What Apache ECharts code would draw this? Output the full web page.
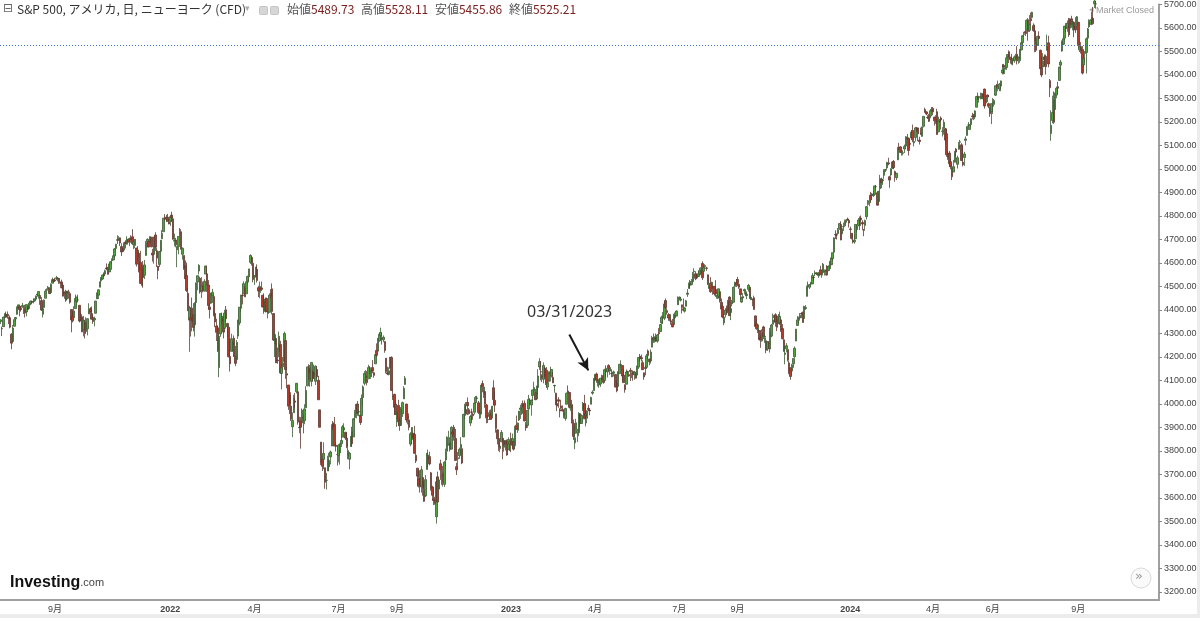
<!DOCTYPE html>
<html>
<head>
<meta charset="utf-8">
<title>S&amp;P 500 日足</title>
<script src="https://cdn.jsdelivr.net/npm/echarts@6.0.0/dist/echarts.min.js"></script>
<style>
  html, body { margin: 0; padding: 0; background: #fff; }
  #chart { width: 1200px; height: 618px; }
</style>
</head>
<body>
<div id="chart"></div>
<script>
// S&P 500 CFD daily candles: [open, close, low, high]
var candles2021 = [
  [4351,4358,4340,4361],[4321,4320,4289,4330],[4329,4370,4329,4372],[4372,4385,4366,4386],[4382,4369,4367,4393],
  [4381,4374,4363,4394],[4369,4361,4340,4369],[4367,4327,4322,4376],[4297,4259,4233,4301],[4266,4323,4264,4336],
  [4331,4359,4330,4359],[4362,4368,4351,4370],[4382,4412,4380,4415],[4410,4422,4405,4422],[4416,4402,4373,4416],
  [4407,4401,4393,4416],[4412,4419,4411,4430],[4396,4395,4383,4412],
  // Aug
  [4406,4387,4368,4422],[4392,4423,4373,4423],[4415,4402,4400,4417],[4406,4429,4405,4430],[4429,4437,4420,4440],
  [4437,4432,4424,4440],[4436,4436,4428,4449],[4442,4447,4437,4449],[4446,4460,4437,4461],[4464,4468,4457,4468],
  [4461,4479,4448,4480],[4462,4448,4422,4462],[4440,4400,4396,4455],[4382,4406,4368,4418],[4411,4442,4410,4445],
  [4450,4480,4450,4489],[4484,4486,4480,4492],[4490,4497,4487,4502],[4493,4470,4468,4496],[4474,4509,4468,4513],
  [4514,4529,4514,4538],[4529,4523,4515,4532],
  // Sep
  [4528,4524,4519,4537],[4534,4537,4527,4545],[4533,4535,4522,4540],[4535,4520,4511,4536],[4518,4514,4493,4521],
  [4514,4493,4493,4529],[4506,4459,4458,4521],[4474,4469,4448,4480],[4479,4443,4435,4486],[4447,4481,4440,4481],
  [4477,4474,4448,4486],[4470,4433,4427,4472],[4402,4358,4305,4403],[4374,4354,4347,4394],[4367,4396,4367,4416],
  [4406,4449,4406,4466],[4438,4455,4430,4456],[4443,4443,4432,4465],[4420,4353,4347,4420],[4367,4360,4352,4389],
  [4371,4307,4306,4382],
  // Oct
  [4317,4357,4288,4375],[4348,4300,4279,4356],[4309,4346,4309,4369],[4320,4363,4292,4365],[4383,4399,4383,4429],
  [4406,4391,4387,4412],[4385,4361,4360,4415],[4368,4351,4341,4374],[4358,4364,4330,4372],[4386,4438,4386,4439],
  [4447,4471,4447,4475],[4463,4486,4447,4488],[4497,4520,4497,4520],[4524,4537,4519,4540],[4532,4549,4528,4551],
  [4553,4545,4540,4560],[4553,4567,4552,4572],[4579,4575,4569,4598],[4580,4552,4551,4584],[4562,4596,4562,4597],
  [4573,4605,4573,4608],
  // Nov
  [4610,4614,4595,4620],[4613,4631,4612,4635],[4630,4660,4623,4664],[4662,4680,4650,4681],[4699,4697,4681,4718],
  [4702,4702,4694,4714],[4707,4685,4672,4708],[4670,4647,4630,4684],[4659,4650,4648,4664],[4655,4683,4648,4688],
  [4689,4683,4662,4697],[4680,4701,4679,4714],[4701,4689,4688,4701],[4700,4704,4672,4708],[4708,4698,4686,4718],
  [4712,4682,4679,4744],[4678,4690,4659,4699],[4675,4701,4663,4702],[4664,4595,4585,4664],[4628,4655,4608,4672],
  [4641,4567,4560,4646],
  // Dec
  [4602,4513,4511,4652],[4504,4577,4504,4595],[4589,4538,4495,4608],[4548,4592,4532,4613],[4632,4687,4632,4694],
  [4690,4701,4667,4705],[4691,4668,4667,4695],[4688,4712,4688,4713],[4710,4669,4667,4710],[4642,4634,4606,4660],
  [4637,4710,4597,4712],[4719,4668,4651,4731],[4652,4621,4583,4666],[4587,4568,4531,4588],[4594,4649,4583,4651],
  [4650,4697,4645,4698],[4703,4726,4703,4740],[4733,4791,4733,4791],[4795,4786,4781,4808],[4788,4793,4775,4805],
  [4795,4778,4776,4809],[4776,4766,4765,4787]
];

var candles2022 = [
  [4778,4797,4758,4797],[4804,4794,4775,4818],[4788,4701,4700,4798],[4693,4696,4671,4725],[4698,4677,4667,4707],
  [4656,4670,4582,4671],[4670,4713,4637,4714],[4728,4726,4713,4749],[4733,4659,4658,4744],[4637,4663,4614,4666],
  [4632,4577,4571,4632],[4588,4533,4531,4611],[4547,4483,4477,4602],[4471,4398,4395,4495],[4357,4410,4222,4418],
  [4367,4357,4287,4411],[4408,4350,4309,4453],[4380,4326,4309,4429],[4337,4432,4287,4432],[4432,4516,4415,4516],
  // Feb
  [4519,4546,4484,4546],[4566,4590,4551,4595],[4535,4477,4470,4542],[4482,4501,4451,4540],[4505,4484,4475,4521],
  [4480,4522,4480,4531],[4553,4587,4553,4588],[4554,4504,4477,4589],[4506,4419,4402,4527],[4413,4402,4364,4427],
  [4429,4472,4426,4473],[4460,4475,4430,4490],[4457,4380,4373,4464],[4385,4349,4327,4395],[4332,4305,4268,4363],
  [4324,4226,4222,4334],[4155,4288,4114,4295],[4298,4385,4286,4385],[4354,4374,4337,4389],
  // Mar
  [4363,4306,4279,4375],[4322,4387,4321,4401],[4401,4363,4350,4417],[4343,4329,4284,4343],[4327,4201,4199,4328],
  [4202,4171,4138,4277],[4224,4278,4224,4299],[4252,4260,4223,4268],[4280,4204,4200,4292],[4203,4173,4161,4247],
  [4189,4262,4189,4272],[4289,4358,4277,4358],[4345,4412,4335,4412],[4407,4463,4390,4465],[4463,4461,4424,4471],
  [4469,4512,4469,4522],[4493,4456,4455,4501],[4469,4520,4469,4521],[4523,4543,4508,4546],[4541,4575,4517,4575],
  [4603,4632,4596,4637],[4624,4602,4589,4627],[4599,4530,4518,4603],
  // Apr
  [4540,4546,4507,4549],[4547,4583,4539,4583],[4573,4526,4517,4594],[4495,4481,4455,4503],[4475,4500,4450,4521],
  [4494,4488,4481,4521],[4463,4413,4411,4463],[4437,4397,4384,4471],[4394,4447,4389,4453],[4449,4393,4392,4453],
  [4385,4392,4364,4411],[4390,4463,4390,4471],[4473,4459,4446,4489],[4490,4394,4381,4513],[4385,4272,4268,4386],
  [4255,4296,4200,4300],[4279,4175,4175,4279],[4187,4184,4171,4240],[4222,4288,4199,4308],[4253,4132,4130,4269],
  // May
  [4130,4155,4062,4169],[4159,4175,4142,4200],[4181,4300,4175,4308],[4270,4147,4107,4270],[4129,4123,4067,4158],
  [4081,3991,3975,4081],[4035,4001,3957,4068],[3991,3935,3928,4050],[3903,3930,3859,3964],[3963,4024,3963,4039],
  [4013,4008,3983,4047],[4052,4088,4045,4090],[4052,3923,3912,4052],[3899,3901,3876,3946],[3928,3901,3810,3944],
  [3919,3974,3908,3981],[3942,3941,3875,3955],[3929,3979,3914,3999],[3984,4058,3984,4076],[4077,4158,4077,4158],
  [4151,4132,4103,4169],
  // Jun
  [4149,4101,4074,4166],[4096,4177,4075,4177],[4137,4109,4097,4143],[4134,4121,4107,4168],[4097,4161,4081,4164],
  [4147,4116,4110,4160],[4101,4018,4018,4120],[3975,3901,3901,3975],[3838,3750,3740,3838],[3764,3735,3715,3779],
  [3764,3790,3722,3837],[3729,3667,3639,3729],[3675,3675,3636,3707],[3715,3765,3715,3780],[3733,3760,3717,3792],
  [3775,3796,3743,3802],[3821,3912,3821,3913],[3920,3900,3889,3928],[3913,3821,3820,3945],[3825,3819,3798,3837],
  [3785,3785,3738,3818],
  // Jul
  [3781,3825,3752,3829],[3792,3831,3742,3832],[3831,3845,3817,3871],[3859,3903,3859,3911],[3889,3899,3876,3918],
  [3880,3855,3847,3880],[3855,3819,3812,3880],[3779,3802,3765,3830],[3765,3790,3722,3796],[3819,3863,3818,3863],
  [3883,3831,3818,3903],[3860,3937,3860,3940],[3942,3960,3930,3975],[3960,3999,3939,3999],[4000,3962,3950,4013],
  [3966,3967,3948,3976],[3953,3921,3911,3953],[3951,4024,3951,4040],[4027,4073,3993,4079],[4088,4130,4079,4140],
  // Aug
  [4113,4119,4094,4144],[4105,4091,4079,4141],[4107,4155,4107,4167],[4154,4152,4129,4161],[4116,4145,4107,4151],
  [4155,4140,4131,4187],[4133,4122,4112,4137],[4171,4210,4171,4211],[4228,4207,4201,4258],[4225,4280,4222,4280],
  [4269,4297,4265,4301],[4291,4305,4273,4325],[4281,4275,4253,4303],[4273,4284,4263,4292],[4266,4228,4218,4266],
  [4195,4138,4130,4195],[4133,4128,4123,4159],[4126,4141,4122,4156],[4154,4199,4150,4200],[4198,4058,4057,4203],
  [4034,4031,4017,4062],[4041,3986,3954,4044],[4000,3955,3954,4015],
  // Sep
  [3936,3967,3903,3970],[3994,3924,3907,4018],[3930,3908,3886,3942],[3909,3980,3907,3987],[3959,4006,3945,4010],
  [4022,4067,4022,4076],[4083,4110,4083,4119],[4000,3932,3921,4000],[3940,3946,3913,3961],[3932,3901,3888,3960],
  [3830,3873,3820,3880],[3849,3900,3828,3900],[3875,3856,3831,3876],[3871,3790,3789,3907],[3782,3758,3749,3790],
  [3727,3693,3648,3727],[3682,3655,3645,3715],[3686,3647,3623,3718],[3651,3720,3623,3736],[3687,3640,3610,3687],
  [3633,3586,3584,3672],
  // Oct
  [3609,3678,3604,3698],[3721,3791,3721,3791],[3765,3783,3727,3806],[3776,3745,3739,3797],[3707,3640,3631,3711],
  [3647,3612,3591,3652],[3595,3589,3570,3640],[3591,3577,3571,3605],[3520,3669,3491,3685],[3690,3583,3582,3712],
  [3638,3677,3638,3687],[3746,3720,3677,3763],[3697,3695,3656,3719],[3706,3666,3649,3736],[3658,3752,3647,3757],
  [3762,3797,3733,3810],[3799,3859,3799,3862],[3825,3830,3825,3886],[3835,3807,3798,3859],[3808,3901,3808,3905],
  [3881,3872,3860,3893],
  // Nov
  [3901,3856,3844,3911],[3853,3760,3759,3894],[3733,3720,3698,3750],[3767,3771,3721,3796],[3780,3807,3767,3814],
  [3817,3828,3785,3859],[3810,3749,3744,3818],[3860,3956,3860,3958],[3963,3993,3936,4001],[3977,3957,3950,4008],
  [4007,3992,3953,4028],[3976,3959,3955,3983],[3919,3947,3906,3954],[3966,3965,3929,3980],[3957,3950,3933,3963],
  [3965,4004,3955,4005],[4006,4028,3999,4034],[4023,4026,4020,4035],[4005,3964,3957,4013],[3964,3958,3937,3976],
  [3957,4080,3939,4080],
  // Dec
  [4087,4076,4050,4100],[4041,4072,4026,4080],[4053,3999,3984,4053],[3996,3941,3918,4001],[3934,3933,3919,3951],
  [3947,3963,3935,3974],[3954,3934,3933,3977],[3940,3991,3937,3991],[4069,4019,3996,4101],[4016,3995,3966,4053],
  [3958,3896,3878,3958],[3890,3852,3828,3890],[3853,3817,3800,3854],[3810,3821,3795,3839],[3839,3879,3839,3889],
  [3854,3822,3765,3854],[3816,3845,3797,3846],[3843,3829,3802,3846],[3829,3783,3780,3849],[3805,3849,3805,3858],
  [3829,3839,3800,3839]
];

var candles2023 = [
  [3853,3824,3795,3878],[3840,3853,3814,3874],[3840,3808,3802,3840],[3823,3895,3809,3907],[3910,3893,3890,3951],
  [3888,3919,3877,3921],[3932,3970,3928,3970],[3977,3983,3937,3997],[3960,3999,3954,4004],[3999,3991,3984,4015],
  [4003,3928,3926,4015],[3912,3898,3886,3923],[3909,3973,3899,3973],[3979,4019,3974,4039],[4001,4017,3996,4025],
  [3996,4016,3950,4019],[4036,4060,4013,4061],[4053,4070,4048,4095],[4049,4018,4017,4064],[4021,4077,4021,4077],
  // Feb
  [4070,4119,4037,4148],[4158,4180,4145,4195],[4137,4136,4101,4183],[4119,4111,4093,4127],[4105,4164,4088,4177],
  [4153,4118,4111,4157],[4144,4082,4068,4157],[4073,4090,4060,4095],[4096,4137,4092,4138],[4126,4136,4096,4159],
  [4120,4147,4113,4148],[4114,4090,4089,4136],[4077,4079,4048,4082],[4046,3997,3995,4048],[4002,3991,3970,4018],
  [4018,4012,3984,4029],[3974,3970,3943,3982],[3992,3982,3976,4018],[3977,3970,3969,3994],
  // Mar
  [3964,3951,3939,3971],[3938,3981,3929,3984],[3999,4046,3999,4048],[4055,4048,4045,4079],[4049,3986,3981,4050],
  [3987,3992,3971,4003],[3998,3919,3918,4018],[3918,3862,3847,3934],[3835,3856,3808,3906],[3894,3920,3873,3937],
  [3876,3892,3838,3894],[3878,3960,3863,3965],[3959,3917,3902,3958],[3917,3951,3917,3956],[3976,4003,3970,4009],
  [4002,3937,3936,4039],[3959,3949,3905,4000],[3939,3971,3918,3973],[3982,3977,3970,3996],[3974,3971,3952,3979],
  [3999,4028,3999,4031],[4046,4051,4039,4058],[4057,4109,4057,4110],
  // Apr
  [4102,4125,4097,4128],[4128,4101,4090,4134],[4099,4091,4075,4104],[4081,4105,4069,4107],[4085,4110,4073,4110],
  [4111,4108,4101,4125],[4121,4092,4086,4125],[4100,4146,4100,4150],[4140,4138,4114,4164],[4137,4152,4113,4152],
  [4164,4154,4139,4169],[4140,4155,4124,4163],[4130,4130,4114,4148],[4133,4133,4114,4138],[4131,4137,4117,4142],
  [4126,4072,4071,4126],[4087,4056,4050,4101],[4075,4136,4075,4139],[4129,4169,4128,4170],
  // May
  [4167,4168,4158,4186],[4164,4119,4098,4165],[4123,4091,4090,4149],[4082,4061,4048,4083],[4084,4136,4084,4147],
  [4137,4138,4124,4142],[4125,4119,4116,4136],[4144,4138,4098,4154],[4133,4131,4110,4133],[4138,4124,4099,4143],
  [4126,4136,4103,4141],[4127,4110,4109,4135],[4123,4159,4116,4164],[4157,4198,4149,4199],[4204,4192,4180,4213],
  [4197,4193,4181,4210],[4176,4146,4145,4186],[4133,4115,4103,4133],[4155,4151,4122,4165],[4156,4205,4153,4213],
  [4226,4206,4192,4232],[4191,4180,4165,4193],
  // Jun
  [4183,4221,4172,4232],[4242,4282,4242,4290],[4282,4273,4260,4300],[4271,4284,4261,4288],[4285,4267,4264,4300],
  [4268,4294,4261,4298],[4304,4299,4293,4323],[4308,4338,4307,4340],[4345,4369,4341,4376],[4366,4373,4340,4391],
  [4365,4426,4357,4439],[4440,4410,4405,4449],[4397,4389,4380,4407],[4380,4366,4354,4387],[4355,4381,4352,4382],
  [4354,4348,4337,4367],[4344,4328,4327,4362],[4338,4378,4338,4384],[4367,4376,4362,4390],[4374,4396,4374,4398],
  [4422,4450,4422,4458],
  // Jul
  [4450,4455,4447,4457],[4442,4447,4436,4454],[4422,4411,4385,4422],[4405,4399,4398,4449],[4395,4409,4389,4413],
  [4416,4439,4415,4443],[4467,4472,4456,4489],[4492,4510,4492,4517],[4515,4505,4490,4528],[4508,4522,4505,4532],
  [4521,4555,4515,4562],[4563,4565,4557,4578],[4554,4535,4527,4565],[4550,4536,4531,4555],[4543,4554,4541,4568],
  [4555,4567,4550,4580],[4558,4566,4548,4582],[4598,4537,4528,4607],[4565,4582,4561,4590],[4585,4589,4580,4595],
  // Aug
  [4579,4577,4567,4584],[4550,4513,4506,4551],[4494,4502,4490,4519],[4514,4478,4473,4540],[4491,4518,4491,4520],
  [4499,4499,4465,4502],[4501,4468,4461,4502],[4487,4469,4456,4527],[4450,4464,4448,4477],[4458,4490,4453,4491],
  [4478,4437,4432,4478],[4433,4404,4403,4449],[4416,4370,4365,4421],[4345,4370,4335,4382],[4380,4400,4368,4408],
  [4415,4388,4384,4419],[4397,4436,4397,4443],[4455,4376,4376,4458],[4389,4406,4357,4418],[4426,4433,4415,4443],
  [4433,4497,4432,4500],[4500,4515,4500,4521],[4517,4508,4498,4532],
  // Sep
  [4530,4516,4501,4541],[4510,4497,4490,4514],[4490,4465,4443,4490],[4434,4451,4430,4457],[4451,4457,4448,4473],
  [4481,4487,4466,4491],[4473,4462,4459,4481],[4462,4467,4446,4479],[4488,4505,4478,4511],[4497,4450,4448,4497],
  [4446,4454,4442,4467],[4445,4444,4416,4449],[4452,4402,4402,4461],[4375,4330,4329,4376],[4341,4320,4316,4358],
  [4311,4337,4302,4339],[4313,4274,4270,4313],[4282,4275,4239,4292],[4269,4300,4265,4318],[4328,4288,4276,4333],
  // Oct
  [4284,4288,4260,4300],[4269,4229,4216,4281],[4234,4263,4226,4268],[4260,4258,4235,4268],[4234,4308,4219,4324],
  [4289,4336,4284,4341],[4339,4358,4339,4385],[4367,4377,4346,4378],[4380,4349,4329,4386],[4360,4327,4310,4377],
  [4342,4374,4342,4383],[4346,4373,4337,4393],[4358,4315,4307,4364],[4321,4278,4275,4340],[4273,4224,4223,4276],
  [4211,4217,4169,4246],[4235,4248,4220,4259],[4232,4186,4181,4232],[4175,4137,4127,4183],[4152,4117,4103,4157],
  [4140,4167,4125,4171],[4171,4194,4154,4194],
  // Nov
  [4201,4237,4197,4245],[4268,4318,4268,4320],[4334,4358,4334,4374],[4365,4365,4344,4372],[4366,4378,4355,4387],
  [4385,4383,4365,4391],[4391,4347,4346,4393],[4364,4415,4357,4418],[4406,4411,4401,4421],[4458,4496,4458,4504],
  [4505,4503,4491,4521],[4497,4508,4489,4511],[4510,4514,4500,4520],[4511,4547,4511,4557],[4539,4538,4525,4542],
  [4553,4557,4544,4568],[4555,4559,4555,4560],[4554,4550,4546,4557],[4545,4555,4537,4562],[4571,4551,4548,4588],
  [4559,4568,4537,4569],
  // Dec
  [4559,4595,4547,4600],[4564,4569,4547,4572],[4565,4567,4547,4572],[4586,4549,4546,4591],[4568,4585,4565,4591],
  [4576,4604,4575,4609],[4593,4622,4591,4623],[4618,4644,4609,4644],[4646,4707,4643,4709],[4721,4720,4702,4739],
  [4719,4719,4700,4726],[4725,4741,4721,4749],[4744,4768,4743,4768],[4764,4698,4697,4778],[4724,4746,4719,4749],
  [4754,4755,4736,4772],[4758,4775,4758,4785],[4773,4781,4768,4785],[4786,4783,4780,4793],[4782,4770,4751,4788]
];

var candles2024 = [
  [4745,4743,4725,4755],[4726,4705,4700,4727],[4697,4689,4683,4727],[4690,4697,4682,4721],[4703,4764,4703,4764],
  [4742,4757,4731,4765],[4760,4783,4756,4791],[4792,4780,4740,4798],[4791,4784,4758,4802],[4772,4766,4739,4782],
  [4739,4739,4714,4745],[4760,4781,4740,4785],[4797,4840,4785,4842],[4853,4850,4844,4868],[4856,4865,4842,4867],
  [4888,4869,4862,4903],[4886,4894,4869,4898],[4888,4891,4881,4906],[4892,4928,4887,4929],[4925,4925,4916,4932],
  [4899,4846,4845,4907],
  // Feb
  [4862,4906,4853,4906],[4916,4959,4905,4975],[4957,4942,4918,4963],[4950,4954,4932,4957],[4973,4995,4958,4999],
  [4995,4998,4987,5000],[5005,5027,4999,5031],[5026,5022,5016,5048],[4967,4953,4920,4971],[4975,5001,4969,5003],
  [5004,5030,5000,5033],[5032,5006,4999,5038],[4989,4976,4946,4993],[4963,4982,4953,4983],[5039,5087,5038,5094],
  [5093,5089,5081,5111],[5094,5070,5068,5097],[5074,5078,5057,5081],[5067,5069,5058,5076],[5085,5096,5068,5104],
  // Mar
  [5098,5137,5094,5140],[5131,5131,5122,5149],[5131,5079,5057,5133],[5109,5105,5095,5128],[5132,5157,5132,5165],
  [5164,5124,5114,5189],[5111,5117,5096,5124],[5134,5175,5117,5179],[5174,5165,5159,5179],[5175,5150,5118,5176],
  [5123,5117,5104,5137],[5154,5149,5145,5176],[5139,5179,5137,5180],[5182,5224,5177,5224],[5253,5241,5240,5261],
  [5243,5234,5229,5246],[5219,5218,5213,5229],[5228,5203,5200,5235],[5226,5248,5216,5249],[5249,5254,5243,5264],
  // Apr
  [5258,5243,5229,5264],[5221,5205,5185,5221],[5194,5211,5194,5229],[5244,5147,5146,5256],[5158,5204,5157,5223],
  [5211,5202,5197,5213],[5217,5209,5168,5224],[5160,5161,5138,5178],[5173,5199,5146,5211],[5171,5123,5107,5175],
  [5150,5061,5052,5169],[5065,5051,5039,5076],[5068,5022,5008,5077],[5031,5011,4999,5046],[5005,4967,4953,5019],
  [4987,5010,4987,5039],[5029,5070,5028,5077],[5085,5072,5053,5089],[5020,5048,5002,5057],[5084,5100,5082,5115],
  [5114,5116,5087,5124],[5103,5036,5035,5110],
  // May
  [5029,5018,5011,5096],[5049,5064,5013,5073],[5122,5128,5101,5139],[5143,5181,5142,5181],[5187,5187,5180,5200],
  [5168,5188,5168,5191],[5189,5214,5180,5215],[5226,5223,5211,5239],[5233,5221,5208,5234],[5221,5247,5212,5250],
  [5263,5308,5263,5311],[5310,5297,5296,5325],[5303,5303,5282,5306],[5305,5308,5296,5325],[5298,5321,5298,5324],
  [5319,5307,5283,5325],[5340,5268,5257,5342],[5281,5305,5279,5311],[5315,5306,5285,5316],[5278,5267,5259,5282],
  [5259,5235,5222,5265],[5244,5278,5191,5280],
  // Jun
  [5283,5283,5234,5302],[5275,5291,5265,5298],[5314,5354,5311,5354],[5357,5352,5344,5362],[5343,5347,5331,5376],
  [5341,5361,5331,5366],[5353,5375,5331,5376],[5409,5421,5402,5447],[5441,5434,5403,5447],[5424,5431,5404,5432],
  [5432,5473,5422,5478],[5477,5487,5471,5488],[5499,5473,5451,5505],[5474,5465,5448,5478],[5459,5448,5444,5490],
  [5460,5469,5441,5472],[5461,5477,5452,5483],[5473,5483,5467,5490],[5488,5460,5445,5523],
  // Jul
  [5471,5475,5448,5479],[5461,5509,5452,5510],[5507,5537,5505,5539],[5537,5567,5531,5570],[5572,5572,5562,5584],
  [5585,5577,5566,5591],[5591,5633,5587,5636],[5635,5585,5546,5642],[5590,5615,5583,5655],[5638,5631,5614,5666],
  [5645,5667,5640,5669],[5610,5589,5584,5620],[5588,5545,5497,5614],[5543,5505,5498,5557],[5527,5564,5525,5567],
  [5565,5555,5550,5586],[5505,5427,5424,5508],[5431,5400,5391,5479],[5434,5459,5432,5493],[5477,5464,5440,5487],
  [5479,5436,5402,5487],[5505,5522,5504,5572],
  // Aug
  [5537,5447,5433,5567],[5376,5346,5306,5383],[5151,5186,5120,5250],[5206,5240,5194,5312],[5294,5199,5192,5330],
  [5253,5319,5246,5326],[5315,5344,5301,5351],[5350,5344,5320,5371],[5377,5434,5377,5435],[5442,5455,5424,5464],
  [5502,5543,5499,5547],[5531,5554,5528,5562],[5557,5608,5548,5608],[5603,5597,5583,5621],[5603,5621,5584,5632],
  [5637,5571,5562,5643],[5599,5635,5587,5642],[5639,5616,5601,5652],[5602,5626,5590,5628],[5624,5592,5561,5628],
  [5607,5592,5579,5646],[5613,5648,5602,5651],
  // Sep
  [5624,5529,5513,5626],[5507,5520,5498,5552],[5521,5503,5491,5540],[5508,5408,5402,5523],[5443,5471,5434,5485],
  [5492,5496,5454,5502],[5496,5554,5406,5560],[5557,5596,5550,5600],[5605,5626,5600,5637],[5616,5634,5615,5637],
  [5645,5635,5612,5670],[5641,5618,5614,5690],[5703,5714,5685,5733],[5703,5703,5682,5716],[5712,5719,5704,5723],
  [5733,5732,5703,5736],[5733,5722,5712,5741],[5763,5745,5715,5767],[5756,5738,5726,5765],[5728,5762,5704,5763]
];

// NYSE closed days in the range
var holidays = [
  '2021-07-05','2021-09-06','2021-11-25','2021-12-24',
  '2022-01-17','2022-02-21','2022-04-15','2022-05-30','2022-06-20','2022-07-04','2022-09-05','2022-11-24','2022-12-26',
  '2023-01-02','2023-01-16','2023-02-20','2023-04-07','2023-05-29','2023-06-19','2023-07-04','2023-09-04','2023-11-23','2023-12-25',
  '2024-01-01','2024-01-15','2024-02-19','2024-03-29','2024-05-27','2024-06-19','2024-07-04','2024-09-02'
];
var firstDay = '2021-07-07';
var emptyDaysRight = 40;   // blank space right of the last candle

// x tick labels (first trading day of the month)
var xTicks = [
  ['2021-09-01','9月'],['2022-01-03','2022'],['2022-04-01','4月'],['2022-07-01','7月'],['2022-09-01','9月'],
  ['2023-01-03','2023'],['2023-04-03','4月'],['2023-07-03','7月'],['2023-09-01','9月'],
  ['2024-01-02','2024'],['2024-04-01','4月'],['2024-06-03','6月'],['2024-09-03','9月']
];
var yTicks = [3200,3300,3400,3500,3600,3700,3800,3900,4000,4100,4200,4300,4400,4500,4600,4700,4800,4900,5000,5100,5200,5300,5400,5500,5600,5700];

var quoteOpen = 5489.73, quoteHigh = 5528.11, quoteLow = 5455.86, quoteClose = 5525.21;
var noteDate = '03/31/2023';

var candles = candles2021.concat(candles2022, candles2023, candles2024);

// trading day categories
var dates = [];
var day = new Date(firstDay + 'T00:00:00Z');
while (dates.length < candles.length + emptyDaysRight) {
    var s = day.toISOString().slice(0, 10);
    var wd = day.getUTCDay();
    if (wd !== 0 && wd !== 6 && holidays.indexOf(s) < 0) {
        dates.push(s);
    }
    day.setUTCDate(day.getUTCDate() + 1);
}

var tickMap = {};
xTicks.forEach(function (t) { tickMap[t[0]] = t[1]; });
function isTick(index, value) { return tickMap[value] !== undefined; }

var uiFont = '"Liberation Sans", Arial, "Noto Sans CJK JP", sans-serif';
var jpFont = '"Noto Sans CJK JP", "Liberation Sans", sans-serif';

var chart = echarts.init(document.getElementById('chart'), null, { renderer: 'canvas' });

var option = {
    animation: false,
    backgroundColor: '#ffffff',
    textStyle: { fontFamily: uiFont },
    grid: { left: 0, right: 41, top: 0, bottom: 18 },
    xAxis: {
        type: 'category',
        data: dates,
        boundaryGap: true,
        axisLine: { lineStyle: { color: '#a0a0a0', width: 2 } },
        axisTick: { interval: isTick, alignWithLabel: true, length: 3, lineStyle: { color: '#888' } },
        axisLabel: {
            interval: isTick,
            margin: 5,
            fontSize: 9,
            color: '#444',
            fontFamily: uiFont,
            formatter: function (value) {
                var t = tickMap[value];
                return /^\d{4}$/.test(t) ? '{b|' + t + '}' : t;
            },
            rich: { b: { fontWeight: 'bold', fontSize: 9, color: '#444', fontFamily: uiFont } }
        },
        splitLine: { show: false }
    },
    yAxis: {
        type: 'value',
        position: 'right',
        min: 3166,
        max: 5700,
        axisLine: { show: true, lineStyle: { color: '#a0a0a0', width: 2 } },
        axisTick: { show: true, length: 3, customValues: yTicks, lineStyle: { color: '#888' } },
        axisLabel: {
            customValues: yTicks,
            margin: 5,
            fontSize: 9,
            color: '#444',
            verticalAlignMaxLabel: 'middle',
            formatter: function (v) { return v.toFixed(2); }
        },
        splitLine: { show: false }
    },
    series: [{
        type: 'candlestick',
        data: candles,
        large: false,
        barWidth: 2,
        clip: true,
        itemStyle: {
            color: '#4ea63a',
            color0: '#b3392a',
            borderColor: '#3d5c35',
            borderColor0: '#5e3a32',
            borderWidth: 0.8
        },
        markLine: {
            silent: true,
            animation: false,
            symbol: ['none', 'none'],
            label: { show: false },
            data: [
                { yAxis: quoteClose, lineStyle: { type: [1, 2], color: '#3f74d8', width: 1, opacity: 1 } },
                [
                    { coord: ['2023-03-07', 4296], symbol: 'none', lineStyle: { type: 'solid', color: '#1a1a1a', width: 2 } },
                    { coord: ['2023-03-27', 4143], symbol: 'arrow', symbolSize: [9, 12] }
                ]
            ]
        }
    }],
    graphic: [
        // header
        { type: 'text', left: 3, top: 3, style: { text: '⊟', font: '12px "DejaVu Sans"', fill: '#666' } },
        { type: 'text', left: 17, top: 3, style: {
            text: 'S&P 500, アメリカ, 日, ニューヨーク (CFD)', font: '12px ' + jpFont, fill: '#333' } },
        { type: 'text', left: 245, top: 4, style: { text: '▾', font: '9px "DejaVu Sans"', fill: '#aaa' } },
        { type: 'rect', left: 259, top: 6, shape: { width: 8, height: 8, r: 1 }, style: { fill: '#d6d6d6', stroke: '#c4c4c4' } },
        { type: 'rect', left: 270, top: 6, shape: { width: 8, height: 8, r: 1 }, style: { fill: '#d6d6d6', stroke: '#c4c4c4' } },
        { type: 'text', left: 287, top: 3, style: {
            text: '{l|始値}{v|' + quoteOpen.toFixed(2) + '}  {l|高値}{v|' + quoteHigh.toFixed(2) + '}  {l|安値}{v|' + quoteLow.toFixed(2) + '}  {l|終値}{v|' + quoteClose.toFixed(2) + '}',
            rich: {
                l: { font: '12px ' + jpFont, fill: '#555' },
                v: { font: '12px ' + jpFont, fill: '#7c2020' }
            }
        } },
        // market status
        { type: 'text', left: 1089, top: 5, style: { text: '◂', font: '9px "DejaVu Sans"', fill: '#aaa' } },
        { type: 'text', left: 1096, top: 6, style: { text: 'Market Closed', font: '9px ' + uiFont, fill: '#9a9a9a' } },
        // annotation
        { type: 'text', left: 527, top: 304, style: { text: noteDate, font: '16px "Noto Sans", "DejaVu Sans", sans-serif', fill: '#333' } },
        // logo
        { type: 'text', left: 10, top: 575, style: {
            text: '{a|Investing}{b|.com}',
            rich: {
                a: { font: 'bold 16px "Liberation Sans", Arial, sans-serif', fill: '#111' },
                b: { font: '11px "Liberation Sans", Arial, sans-serif', fill: '#444' }
            }
        } },
        // scroll button
        { type: 'circle', shape: { cx: 1141, cy: 578, r: 10 }, style: { fill: '#fafafa', stroke: '#d9d9d9', lineWidth: 1 } },
        { type: 'text', left: 1135, top: 570, style: { text: '»', font: '13px "DejaVu Sans"', fill: '#999' } },
        // gray frame strips
        { type: 'rect', left: 0, top: 614, shape: { width: 1200, height: 4 }, style: { fill: '#ececec' } },
        { type: 'rect', left: 1197, top: 0, shape: { width: 3, height: 618 }, style: { fill: '#ececec' } }
    ]
};

chart.setOption(option);
</script>
</body>
</html>
